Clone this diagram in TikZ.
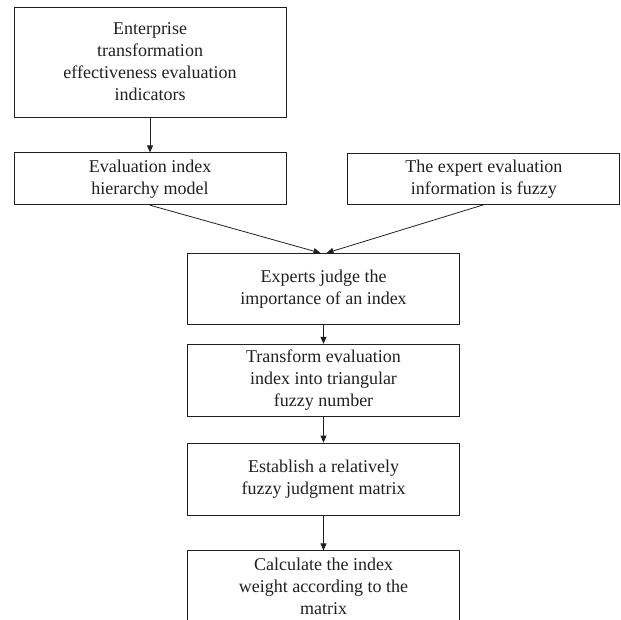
\documentclass[tikz,border=0pt]{standalone}
\usepackage{fontspec}
\setmainfont{Liberation Serif}
\usetikzlibrary{arrows.meta,positioning}
\definecolor{cink}{HTML}{231F20}

\begin{document}
\begin{tikzpicture}[x=1pt, y=1pt,
    box/.style={draw=cink, line width=0.8pt, text=cink, align=center,
      minimum width=272pt, inner sep=2pt, font=\fontsize{18}{22}\selectfont},
    pt/.style={-{Triangle[length=7pt, width=6pt]}, cink, line width=0.8pt}]
  \useasboundingbox (0,0) rectangle (621,-619);
  \clip (0,0) rectangle (621,-619);

  \node[box, minimum height=110pt] (ind) at (150,-62)
       {Enterprise\\transformation\\effectiveness evaluation\\indicators};
  \node[box, minimum height=52pt, below=35pt of ind] (hier)
       {Evaluation index\\hierarchy model};
  \node[box, minimum height=51pt, right=61pt of hier] (fuzzy)
       {The expert evaluation\\information is fuzzy};
  \node[box, minimum height=71pt, anchor=north] (judge) at (323.5,-253)
       {Experts judge the\\importance of an index};
  \node[box, minimum height=72pt, below=19pt of judge] (tri)
       {Transform evaluation\\index into triangular\\fuzzy number};
  \node[box, minimum height=72pt, below=26pt of tri] (mat)
       {Establish a relatively\\fuzzy judgment matrix};
  \node[box, minimum height=84pt, text depth=14pt, below=35pt of mat] (wt)
       {Calculate the index\\weight according to the\\matrix};

  \draw[pt] (ind.south) -- (hier.north);
  \draw[pt] (hier.south) -- ([xshift=-3pt]judge.north);
  \draw[pt] (fuzzy.south) -- ([xshift=3pt]judge.north);
  \draw[pt] (judge.south) -- (tri.north);
  \draw[pt] (tri.south) -- (mat.north);
  \draw[pt] (mat.south) -- (wt.north);
\end{tikzpicture}
\end{document}
